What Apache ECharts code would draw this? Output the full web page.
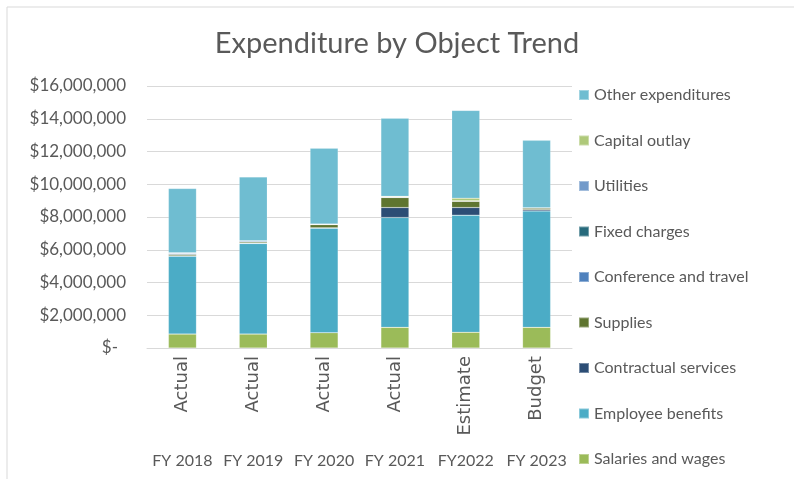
<!DOCTYPE html>
<html>
<head>
<meta charset="utf-8">
<script src="https://cdn.jsdelivr.net/npm/echarts@6/dist/echarts.min.js"></script>
<style>
  html, body { margin: 0; padding: 0; background: #ffffff; }
  #chart { width: 794px; height: 479px; }
</style>
</head>
<body>
<div id="chart"></div>
<script>
// Fiscal years and the status of each year's figures
const years = ['FY 2018', 'FY 2019', 'FY 2020', 'FY 2021', 'FY2022', 'FY 2023'];
const phases = ['Actual', 'Actual', 'Actual', 'Actual', 'Estimate', 'Budget'];

// Spending by object, in dollars
const salariesAndWages     = [850000, 850000, 930000, 1260000, 960000, 1260000];
const employeeBenefits     = [4760000, 5530000, 6390000, 6710000, 7150000, 7110000];
const contractualServices  = [20000, 20000, 20000, 610000, 470000, 80000];
const supplies             = [80000, 70000, 190000, 610000, 380000, 100000];
const conferenceAndTravel  = [60000, 60000, 20000, 10000, 10000, 10000];
const fixedCharges         = [10000, 10000, 10000, 10000, 10000, 0];
const utilities            = [30000, 10000, 10000, 10000, 10000, 0];
const capitalOutlay        = [0, 0, 0, 40000, 160000, 0];
const otherExpenditures    = [3930000, 3900000, 4630000, 4770000, 5360000, 4120000];

const yTicks = { min: 0, max: 16000000, interval: 2000000 };

const seriesDefs = [
  { name: 'Salaries and wages',    data: salariesAndWages,    color: '#9BBB59' },
  { name: 'Employee benefits',     data: employeeBenefits,    color: '#4BACC6' },
  { name: 'Contractual services',  data: contractualServices, color: '#2C4D75' },
  { name: 'Supplies',              data: supplies,            color: '#5F7530' },
  { name: 'Conference and travel', data: conferenceAndTravel, color: '#4F81BD' },
  { name: 'Fixed charges',         data: fixedCharges,        color: '#276A7C' },
  { name: 'Utilities',             data: utilities,           color: '#729ACA' },
  { name: 'Capital outlay',        data: capitalOutlay,       color: '#AFC97A' },
  { name: 'Other expenditures',    data: otherExpenditures,   color: '#6FBDD1' }
];

const FONT = 'Lato, "Open Sans", sans-serif';
const TXT = '#595959';

const chart = echarts.init(document.getElementById('chart'), null, { renderer: 'canvas' });

chart.setOption({
  backgroundColor: '#ffffff',
  animation: false,
  title: {
    text: 'Expenditure by Object Trend',
    left: 'center',
    top: 24,
    textStyle: { fontFamily: FONT, fontSize: 29, fontWeight: 'normal', color: TXT }
  },
  graphic: [{
    type: 'rect',
    shape: { x: 7, y: 7, width: 820, height: 520 },
    style: { fill: 'none', stroke: '#d9d9d9', lineWidth: 1 },
    silent: true
  }],
  legend: {
    orient: 'vertical',
    left: 578,
    top: 87,
    padding: 0,
    itemWidth: 10,
    itemHeight: 10,
    itemGap: 29.5,
    icon: 'rect',
    data: seriesDefs.map(s => s.name).reverse(),
    textStyle: { fontFamily: FONT, fontSize: 16, color: TXT, lineHeight: 16 }
  },
  grid: { left: 147, right: 222, top: 86, bottom: 131, containLabel: false },
  xAxis: [{
    type: 'category',
    data: years,
    axisLine: { show: true, lineStyle: { color: '#d9d9d9', width: 1 } },
    axisTick: { show: false },
    axisLabel: {
      rotate: 90,
      margin: 8,
      fontFamily: '"DejaVu Sans", sans-serif',
      fontSize: 18,
      color: TXT,
      formatter: (v, i) => phases[i]
    }
  }, {
    type: 'category',
    data: years,
    position: 'bottom',
    offset: 97,
    axisLine: { show: false },
    axisTick: { show: false },
    axisLabel: { margin: 8, fontFamily: FONT, fontSize: 16, color: TXT, interval: 0 }
  }],
  yAxis: {
    type: 'value',
    min: yTicks.min,
    max: yTicks.max,
    interval: yTicks.interval,
    axisLine: { show: false },
    axisTick: { show: false },
    splitLine: { lineStyle: { color: '#d9d9d9', width: 1 } },
    axisLabel: {
      margin: 21,
      fontFamily: FONT,
      fontSize: 17,
      color: TXT,
      formatter: v => v === 0 ? '{z|$-}' : '$' + v.toLocaleString('en-US'),
      rich: { z: { fontFamily: FONT, fontSize: 17, color: TXT, padding: [0, 8, 0, 0] } }
    }
  },
  series: seriesDefs.map(s => ({
    name: s.name,
    type: 'bar',
    stack: 'total',
    xAxisIndex: 0,
    barWidth: 28,
    data: s.data,
    itemStyle: { color: s.color, borderColor: 'rgba(255,255,255,0.35)', borderWidth: 0.5 }
  }))
});
</script>
</body>
</html>
